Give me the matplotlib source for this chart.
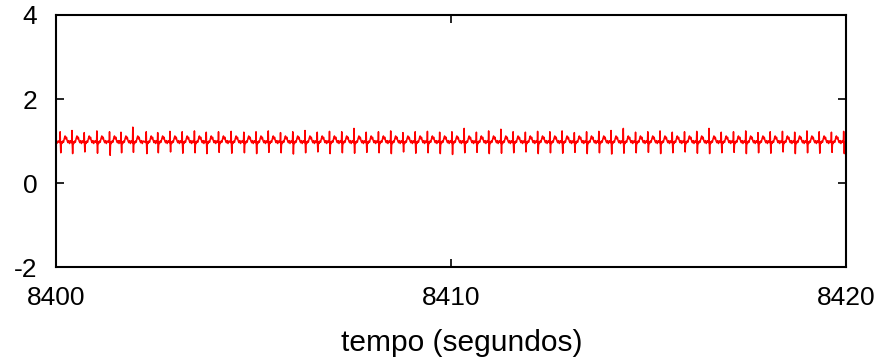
import matplotlib
matplotlib.use("Agg")
import matplotlib.pyplot as plt

plt.rcParams['font.family'] = ['Liberation Sans', 'DejaVu Sans']
plt.rcParams['axes.unicode_minus'] = False

# beat times (seconds after 8400, time of R spike)
beat_times = [0.105, 0.405, 0.715, 1.035, 1.355, 1.645, 1.945, 2.285, 2.575, 2.885, 3.195, 3.505,
              3.805, 4.115, 4.435, 4.755, 5.065, 5.375, 5.685, 5.995, 6.305, 6.615, 6.925, 7.235,
              7.545, 7.855, 8.165, 8.475, 8.785, 9.095, 9.405, 9.715, 10.025, 10.335, 10.645, 10.955,
              11.265, 11.575, 11.885, 12.195, 12.505, 12.815, 13.125, 13.435, 13.745, 14.055, 14.365,
              14.675, 14.985, 15.295, 15.605, 15.915, 16.225, 16.535, 16.845, 17.155, 17.465, 17.775,
              18.085, 18.395, 18.705, 19.015, 19.325, 19.635, 19.945]
r_peaks = [1.22, 1.25, 1.20, 1.24, 1.22, 1.21, 1.33, 1.22, 1.20, 1.23, 1.22, 1.24, 1.21, 1.22, 1.23, 1.21,
           1.22, 1.24, 1.20, 1.22, 1.25, 1.21, 1.23, 1.22, 1.30, 1.21, 1.22, 1.24, 1.20, 1.22, 1.23, 1.21,
           1.22, 1.30, 1.21, 1.24, 1.28, 1.22, 1.21, 1.23, 1.22, 1.24, 1.20, 1.22, 1.23, 1.25, 1.30, 1.21,
           1.22, 1.24, 1.21, 1.22, 1.23, 1.30, 1.21, 1.22, 1.24, 1.20, 1.22, 1.23, 1.21, 1.24, 1.22, 1.21, 1.23]
s_troughs = [0.72, 0.70, 0.74, 0.71, 0.66, 0.72, 0.73, 0.70, 0.72, 0.74, 0.71, 0.72, 0.70, 0.73, 0.71, 0.72,
             0.70, 0.73, 0.72, 0.69, 0.72, 0.74, 0.70, 0.72, 0.71, 0.73, 0.72, 0.70, 0.74, 0.71, 0.72, 0.70,
             0.68, 0.72, 0.73, 0.70, 0.71, 0.72, 0.74, 0.70, 0.72, 0.71, 0.73, 0.70, 0.72, 0.69, 0.71, 0.72,
             0.73, 0.70, 0.72, 0.74, 0.71, 0.70, 0.72, 0.73, 0.70, 0.72, 0.71, 0.74, 0.70, 0.72, 0.71, 0.73, 0.70]
# beat waveform vertices: offsets (s) relative to R spike; 'R' / 'S' take the per-beat values
wave_offsets = [-0.030, -0.018, -0.008, 0.0, 0.008, 0.016, 0.028, 0.045, 0.065, 0.085, 0.105,
                0.125, 0.140, 0.160, 0.180, 0.200, 0.220, 0.240, 0.262]
wave_levels = [0.97, 1.01, 0.96, 'R', 0.90, 'S', 0.98, 0.94, 1.00, 0.97, 1.06,
               1.12, 1.05, 1.09, 1.00, 0.96, 1.01, 0.94, 1.00]

t0 = 8400
xs = [t0 + 0.0, t0 + 0.03, t0 + 0.05]
ys = [0.99, 0.95, 1.00]
for bt, rp, st in zip(beat_times, r_peaks, s_troughs):
    for off, lv in zip(wave_offsets, wave_levels):
        if lv == 'R':
            lv = rp
        elif lv == 'S':
            lv = st
        x = t0 + bt + off
        if x <= t0 + 20:
            xs.append(x)
            ys.append(lv)

fig = plt.figure(figsize=(8.82, 3.57), dpi=100)
ax = fig.add_axes([0.0635, 0.252, 0.8955, 0.706])
ax.plot(xs, ys, color='#ff0000', linewidth=1.1)
ax.set_xlim(8400, 8420)
ax.set_ylim(-2, 4)
ax.set_xticks([8400, 8410, 8420])
ax.set_yticks([-2, 0, 2, 4])
ax.tick_params(direction='in', top=True, right=True, length=6, width=1.2, labelsize=19)
ax.tick_params(axis='x', pad=14)
ax.tick_params(axis='y', pad=13.5)
for s in ax.spines.values():
    s.set_linewidth(1.5)
ax.set_xlabel('tempo (segundos)', fontsize=21.5, labelpad=13)
ax.xaxis.label.set_x(0.514)
fig.savefig('out.png', dpi=100)
